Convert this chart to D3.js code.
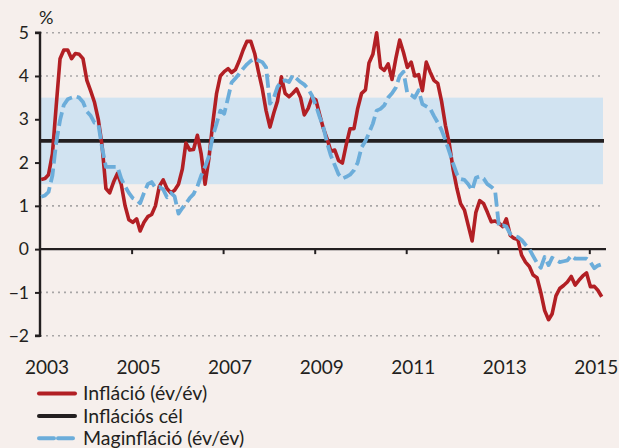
<!DOCTYPE html>
<html>
<head>
<meta charset="utf-8">
<script src="https://cdn.jsdelivr.net/npm/d3@7"></script>
<style>
  html, body { margin: 0; padding: 0; background: #f6efec; }
  svg { display: block; }
  text { font-family: Lato, "Open Sans", sans-serif; fill: #231f20; }
</style>
</head>
<body>
<svg id="chart" width="619" height="448"></svg>
<script>
// Monthly series, January 2003 – April 2015 (per cent, year on year)
const firstMonth = new Date(2003, 0, 1);

const inflation = [
  1.61, 1.63, 1.72, 2.2, 3.3, 4.4, 4.6, 4.6, 4.4, 4.52, 4.5, 4.4,
  3.9, 3.65, 3.4, 3.0, 2.4, 1.4, 1.3, 1.55, 1.75, 1.5, 1.0, 0.68,
  0.62, 0.7, 0.42, 0.62, 0.75, 0.8, 1.0, 1.45, 1.6, 1.4, 1.3, 1.36,
  1.5, 1.85, 2.45, 2.29, 2.3, 2.63, 2.2, 1.5, 2.1, 2.9, 3.6, 4.0,
  4.1, 4.17, 4.08, 4.15, 4.35, 4.6, 4.8, 4.8, 4.52, 4.1, 3.7, 3.2,
  2.82, 3.15, 3.42, 3.98, 3.6, 3.52, 3.6, 3.7, 3.5, 3.1, 3.25, 3.5,
  3.45, 3.1, 2.8, 2.55, 2.26, 2.29, 2.05, 1.99, 2.42, 2.78, 2.78, 3.25,
  3.6, 3.68, 4.3, 4.5, 5.0, 4.2, 4.13, 4.28, 3.92, 4.4, 4.83, 4.55,
  4.2, 4.32, 4.0, 4.03, 3.66, 4.32, 4.1, 3.9, 3.83, 3.42, 2.86, 2.45,
  1.85, 1.4, 1.05, 0.9, 0.55, 0.19, 0.85, 1.12, 1.05, 0.85, 0.63, 0.65,
  0.6, 0.52, 0.7, 0.32, 0.25, 0.22, -0.14, -0.3, -0.4, -0.6, -0.66, -1.0,
  -1.42, -1.63, -1.5, -1.08, -0.91, -0.84, -0.76, -0.63, -0.83, -0.72, -0.62, -0.55,
  -0.87, -0.86, -0.95, -1.1
];

const coreInflation = [
  1.21, 1.24, 1.32, 1.7, 2.45, 2.98, 3.33, 3.46, 3.5, 3.53, 3.5, 3.4,
  3.18, 3.08, 2.92, 2.9, 2.35, 1.9, 1.9, 1.9, 1.9, 1.63, 1.45, 1.3,
  1.18, 1.13, 1.06, 1.3, 1.5, 1.55, 1.42, 1.44, 1.38, 1.2, 1.3, 1.22,
  0.82, 0.95, 1.05, 1.18, 1.27, 1.45, 1.7, 1.9, 2.15, 2.6, 2.9, 3.2,
  3.13, 3.5, 3.85, 3.95, 4.05, 4.17, 4.27, 4.35, 4.4, 4.36, 4.32, 4.2,
  3.36, 3.5, 3.75, 3.88, 3.9, 3.86, 4.02, 3.94, 3.86, 3.8, 3.7, 3.55,
  3.32, 3.05, 2.83, 2.45, 2.16, 1.94, 1.73, 1.63, 1.67, 1.72, 1.82, 2.0,
  2.35, 2.5, 2.68, 2.9, 3.2, 3.24, 3.32, 3.5, 3.6, 3.73, 4.0, 4.1,
  3.6, 3.56, 3.5, 3.67, 3.35, 3.3, 3.25, 3.08, 2.92, 2.75, 2.52, 2.26,
  1.98, 1.73, 1.62, 1.6, 1.5, 1.36, 1.65, 1.68, 1.63, 1.5, 1.44, 1.36,
  0.52, 0.55, 0.52, 0.35, 0.31, 0.28, 0.21, 0.1, 0.0, -0.16, -0.32, -0.43,
  -0.18, -0.37, -0.2, -0.25, -0.3, -0.28, -0.26, -0.15, -0.22, -0.22, -0.22, -0.22,
  -0.3, -0.44, -0.38, -0.35
];

const inflationTarget = 2.5;
const toleranceBand = [1.5, 3.5];
const yTicks = [-2, -1, 0, 1, 2, 3, 4, 5];
const xTickYears = [2003, 2005, 2007, 2009, 2011, 2013, 2015];

const legendLabels = ["Infláció (év/év)", "Inflációs cél", "Maginfláció (év/év)"];

const colors = { inflation: "#b21f24", target: "#231f20", core: "#6cadda", band: "#d1e3f1", grid: "#a8a6a6" };

const svg = d3.select("#chart");
svg.append("rect").attr("width", 619).attr("height", 448).attr("fill", "#f6efec");

const x = d3.scaleTime()
  .domain([new Date(2003, 0, 1), new Date(2015, 0, 1)])
  .range([40, 589.3]);
const y = d3.scaleLinear().domain([-2, 5]).range([335.7, 32.7]);

const plotRight = 603;
const months = inflation.map((_, i) => d3.timeDay.offset(d3.timeMonth.offset(firstMonth, i), 9));

// dotted horizontal gridlines
svg.append("g").selectAll("line")
  .data(yTicks.filter(v => v !== 0))
  .join("line")
  .attr("x1", x.range()[0]).attr("x2", plotRight)
  .attr("y1", d => y(d)).attr("y2", d => y(d))
  .attr("stroke", colors.grid).attr("stroke-width", 1.6)
  .attr("stroke-dasharray", "2,4");

// tolerance band around the target
svg.append("rect")
  .attr("x", x.range()[0])
  .attr("y", y(toleranceBand[1]))
  .attr("width", plotRight - x.range()[0])
  .attr("height", y(toleranceBand[0]) - y(toleranceBand[1]))
  .attr("fill", colors.band);

// inflation target
svg.append("line")
  .attr("x1", x.range()[0]).attr("x2", plotRight + 1)
  .attr("y1", y(inflationTarget)).attr("y2", y(inflationTarget))
  .attr("stroke", colors.target).attr("stroke-width", 3.6);

// y axis
const yAxis = d3.axisLeft(y).tickValues(yTicks).tickSize(5).tickPadding(6)
  .tickFormat(d => d < 0 ? "\u2212" + Math.abs(d) : String(d));
const gy = svg.append("g").attr("transform", `translate(${x.range()[0]},0)`).call(yAxis);
gy.select(".domain").attr("stroke", "#231f20").attr("stroke-width", 2.4)
  .attr("d", `M-5,${y(5)}H0V${y(-2)}H-5`);
gy.selectAll(".tick line").attr("stroke", "#231f20").attr("stroke-width", 2);
gy.selectAll(".tick text").style("font-size", "17.5px").attr("fill", "#231f20");

// x axis drawn along zero
const xAxis = d3.axisBottom(x)
  .tickValues(xTickYears.map(yr => new Date(yr, 0, 1)))
  .tickSize(5).tickFormat(d3.timeFormat("%Y"));
const gx = svg.append("g").attr("transform", `translate(0,${y(0)})`).call(xAxis);
gx.select(".domain").attr("stroke", "#231f20").attr("stroke-width", 2.2)
  .attr("d", `M${x.range()[0]},0H${plotRight + 3}`);
gx.selectAll(".tick line").attr("stroke", "#231f20").attr("stroke-width", 2);
gx.selectAll(".tick text")
  .attr("y", y(-2) - y(0) + 25)
  .attr("dx", 6.5)
  .style("font-size", "19px").attr("fill", "#231f20");
gx.selectAll(".tick").filter(d => d.getFullYear() === 2003).select("line").remove();

// unit label
svg.append("text").attr("x", 39).attr("y", 24).text("%").style("font-size", "18px");

const line = d3.line().x((d, i) => x(months[i])).y(d => y(d)).curve(d3.curveLinear);

svg.append("path").datum(inflation)
  .attr("d", line).attr("fill", "none")
  .attr("stroke", colors.inflation).attr("stroke-width", 3.6)
  .attr("stroke-linejoin", "round");

svg.append("path").datum(coreInflation)
  .attr("d", line).attr("fill", "none")
  .attr("stroke", colors.core).attr("stroke-width", 3.8)
  .attr("stroke-dasharray", "14,5")
  .attr("stroke-linejoin", "round");

// legend
const legendStyles = [
  { color: colors.inflation, dash: null },
  { color: colors.target, dash: null },
  { color: colors.core, dash: "15,4" }
];
const legend = svg.append("g");
legendLabels.forEach((label, i) => {
  const cy = 393.5 + i * 22.4;
  legend.append("line")
    .attr("x1", 39).attr("x2", 75).attr("y1", cy).attr("y2", cy)
    .attr("stroke", legendStyles[i].color).attr("stroke-width", 4)
    .attr("stroke-linecap", "round")
    .attr("stroke-dasharray", legendStyles[i].dash);
  legend.append("text")
    .attr("x", 83).attr("y", cy + 6.8)
    .text(label).style("font-size", "19.5px");
});
</script>
</body>
</html>
